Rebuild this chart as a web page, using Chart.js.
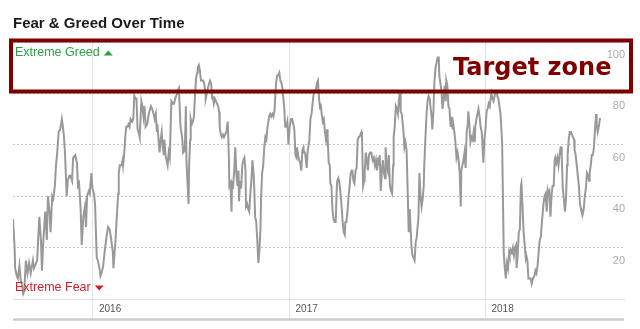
<!DOCTYPE html>
<html>
<head>
<meta charset="utf-8">
<script src="https://cdn.jsdelivr.net/npm/chart.js@4.4.1/dist/chart.umd.min.js"></script>
<style>
  html, body { margin: 0; padding: 0; background: #fff; }
  #wrap { position: relative; width: 640px; height: 329px; }
</style>
</head>
<body>
<div id="wrap"><canvas id="Grafico_FG" width="640" height="329"></canvas></div>
<script>
// días contados desde el 5 de agosto de 2015
const days = [0,3,4,7,9,12,14,17,19,21,24,27,30,33,37,39,43,45,49,52,54,56,60,63,65,68,70,73,75,78,80,82,85,88,91,93,95,97,100,102,105,107,110,112,116,119,121,123,126,128,131,134,136,138,141,143,146,148,151,153,156,158,161,163,166,168,171,174,177,
  180,183,186,187,191,193,196,197,199,202,204,205,207,209,211,213,215,217,219,222,224,226,228,230,232,235,236,239,241,243,245,247,250,252,254,257,259,262,264,266,268,269,271,273,275,277,279,281,282,284,286,288,290,292,294,295,298,300,302,304,305,307,309,312,315,317,320,322,323,327,328,330,331,333,335,337,339,341,343,344,346,348,350,352,354,356,358,359,
  364,367,369,371,372,374,376,378,380,382,384,385,387,389,391,393,395,397,398,400,402,403,405,407,408,410,412,414,416,418,420,421,423,425,427,429,431,433,434,436,438,440,442,444,446,448,449,451,453,455,457,459,461,462,464,466,468,470,472,474,475,477,479,481,483,485,487,488,490,492,494,496,498,500,502,503,505,507,509,511,513,515,516,518,520,522,524,526,528,529,531,533,535,537,539,541,542,
  544,547,549,550,552,554,556,558,560,562,564,566,568,570,572,573,575,577,579,581,583,585,586,588,590,591,593,595,597,599,601,603,604,606,608,610,612,614,616,618,619,621,623,625,627,629,631,632,634,636,638,640,642,644,645,647,649,650,652,654,655,657,659,661,663,665,667,668,670,672,674,676,678,680,681,683,685,687,689,691,693,694,696,698,700,702,704,706,708,709,711,713,715,717,719,721,722,724,
  727,729,731,733,735,737,739,740,742,744,746,748,750,752,753,755,757,759,761,763,765,766,768,770,772,774,776,778,780,781,783,785,787,789,791,793,794,796,798,800,802,804,806,807,809,811,813,815,817,819,820,822,824,826,828,830,832,834,835,837,839,841,843,845,847,848,850,852,854,856,858,860,861,863,865,867,869,871,873,874,876,878,880,882,884,886,888,889,891,893,895,897,899,901,902,904,906,908,911,
  914,916,918,920,922,924,925,927,929,931,933,935,937,938,940,942,944,946,947,949,951,953,955,956,958,960,962,964,966,968,969,971,973,975,977,979,981,983,984,986,988,990,992,994,996,997,999,1001,1003,1005,1007,1009,1010,1012,1014,1016,1018,1020,1021,1022,1024,1026,1028,1030,1032,1033,1035,1037,1039,1041,1043,1045,1046,1048,1050,1052,1054,1056,1058,1059,1061,1063,1065,1067,1069,1071,1073,1074,1076,1078,1080,1082,1084,1086,1087,1089,1091,1093,1095];
const values = [31,20,12,9,8,13,8,5,2,3,15,10,14,10,15,12,14,15,32,23,11,21,34,23,40,34,26,40,39,44,52,56,65,66,70,67,63,56,40,46,48,48,46,55,56,53,44,45,35,21,32,36,28,40,42,41,49,43,41,36,16,15,12,9,11,13,19,24,28,
  27,23,18,12,23,31,41,49,52,52,54,52,56,63,67,67,68,67,70,69,70,79,78,78,66,64,63,77,75,71,75,67,68,71,73,75,74,72,70,72,65,68,62,57,62,65,59,56,62,56,54,52,57,55,70,77,76,76,78,79,79,81,82,67,63,57,58,75,54,37,52,62,70,68,69,71,79,86,88,90,91,89,85,85,85,84,81,78,
  83,85,84,78,79,76,78,77,76,75,73,67,64,63,64,63,64,65,66,69,56,44,45,34,45,44,50,59,49,44,50,38,46,43,52,54,55,50,36,37,35,34,41,46,54,49,45,32,30,23,14,19,28,39,49,52,59,63,62,67,68,71,72,71,72,71,73,77,84,87,87,88,85,84,82,79,75,67,67,69,60,66,68,70,70,68,66,56,55,59,56,54,53,50,58,59,57,
  57,51,58,59,62,70,72,76,80,81,81,84,85,78,74,76,72,69,70,65,62,66,63,53,52,45,44,35,31,30,30,43,46,47,45,41,36,30,26,25,30,30,34,40,44,49,50,50,46,45,50,51,62,63,63,64,65,63,44,46,49,57,54,50,56,57,57,56,54,55,52,54,50,55,52,56,42,50,54,49,47,59,52,50,56,44,42,41,52,63,67,75,74,72,78,81,73,72,
  66,59,61,58,43,26,35,30,21,17,16,15,22,24,27,31,49,40,36,39,44,52,62,71,77,79,78,74,70,66,73,85,90,92,94,94,87,84,81,74,78,83,77,85,83,75,74,67,71,66,68,65,61,55,57,54,49,36,50,52,54,57,51,65,68,73,68,61,63,62,65,61,67,70,72,74,71,67,65,62,53,62,66,73,74,76,75,77,80,78,77,79,81,81,79,78,75,72,61,
  18,12,8,14,12,18,17,19,18,20,17,20,21,12,17,26,27,44,45,36,26,21,16,17,15,8,8,8,6,8,8,9,11,10,13,18,23,24,27,32,37,40,41,34,42,41,42,32,40,44,44,54,55,53,55,52,56,59,59,56,43,39,34,39,52,56,62,65,65,64,63,62,58,56,52,48,44,37,35,34,33,35,40,43,49,48,46,49,52,56,56,59,66,72,68,65,67,70,70];

const yearTicks = [149, 515, 880];
const yearLabels = ['2016', '2017', '2018'];
const yTicks = [20, 40, 60, 80, 100];
const dayMax = 1138;

const fuente = '"Liberation Sans", Arial, Helvetica, sans-serif';

// textos, recuadro y línea inferior dibujados encima del gráfico
const extras = {
  id: 'extras',
  afterDraw(chart) {
    const { ctx, chartArea: a } = chart;
    ctx.save();

    ctx.fillStyle = '#1a1a1a';
    ctx.font = 'bold 15px ' + fuente;
    ctx.textBaseline = 'alphabetic';
    ctx.fillText('Fear & Greed Over Time', 13, 28);

    // línea gris gruesa debajo de los años
    ctx.strokeStyle = '#cccccc';
    ctx.lineWidth = 2.5;
    ctx.beginPath();
    ctx.moveTo(a.left, a.bottom + 20.5);
    ctx.lineTo(a.right, a.bottom + 20.5);
    ctx.stroke();

    ctx.font = '12.5px ' + fuente;
    ctx.textBaseline = 'middle';
    ctx.fillStyle = '#2f9e44';
    ctx.fillText('Extreme Greed', 15, 53);
    let x = 15 + ctx.measureText('Extreme Greed').width + 4;
    ctx.beginPath();
    ctx.moveTo(x, 55.5); ctx.lineTo(x + 9, 55.5); ctx.lineTo(x + 4.5, 50.5);
    ctx.closePath(); ctx.fill();

    ctx.fillStyle = '#d2202f';
    ctx.fillText('Extreme Fear', 15, 288);
    x = 15 + ctx.measureText('Extreme Fear').width + 4;
    ctx.beginPath();
    ctx.moveTo(x, 285.5); ctx.lineTo(x + 9, 285.5); ctx.lineTo(x + 4.5, 290.5);
    ctx.closePath(); ctx.fill();

    // recuadro "Target zone"
    ctx.strokeStyle = '#800000';
    ctx.lineWidth = 4;
    ctx.strokeRect(11, 40.5, 620, 51);
    ctx.fillStyle = '#800000';
    ctx.font = 'bold 24px "DejaVu Sans", Verdana, sans-serif';
    ctx.textBaseline = 'alphabetic';
    ctx.fillText('Target zone', 453, 75);

    ctx.restore();
  }
};

new Chart(document.getElementById('Grafico_FG').getContext('2d'), {
  type: 'line',
  data: {
    datasets: [{
      label: 'Fear & Greed',
      data: days.map((d, i) => ({ x: d, y: values[i] })),
      borderColor: '#999999',
      borderWidth: 2,
      pointRadius: 0,
      tension: 0,
      fill: false
    }]
  },
  options: {
    responsive: false,
    animation: false,
    layout: { padding: { left: 13, right: 16, top: 42, bottom: 10 } },
    plugins: {
      legend: { display: false },
      tooltip: { enabled: false },
      title: { display: false }
    },
    scales: {
      x: {
        type: 'linear',
        min: 0,
        max: dayMax,
        afterBuildTicks: (axis) => { axis.ticks = yearTicks.map(v => ({ value: v })); },
        afterFit: (axis) => { axis.height = 20; },
        grid: { color: '#e4e4e4', lineWidth: 1, drawTicks: true, tickLength: 20 },
        border: { display: true, color: '#dddddd' },
        ticks: {
          callback: (v, i) => yearLabels[i],
          color: '#555555',
          font: { family: fuente, size: 10 },
          align: 'start',
          labelOffset: 6,
          padding: -16,
          maxRotation: 0
        }
      },
      y: {
        position: 'right',
        min: 0,
        max: 100,
        afterBuildTicks: (axis) => { axis.ticks = yTicks.map(v => ({ value: v })); },
        afterFit: (axis) => { axis.width = 0; },
        grid: { color: '#c8c8c8', lineWidth: 1, drawTicks: false },
        border: { display: false, dash: [2, 2] },
        ticks: {
          mirror: true,
          padding: 1,
          labelOffset: 13,
          color: '#aaaaaa',
          font: { family: fuente, size: 11 }
        }
      }
    }
  },
  plugins: [extras]
});
</script>
</body>
</html>
